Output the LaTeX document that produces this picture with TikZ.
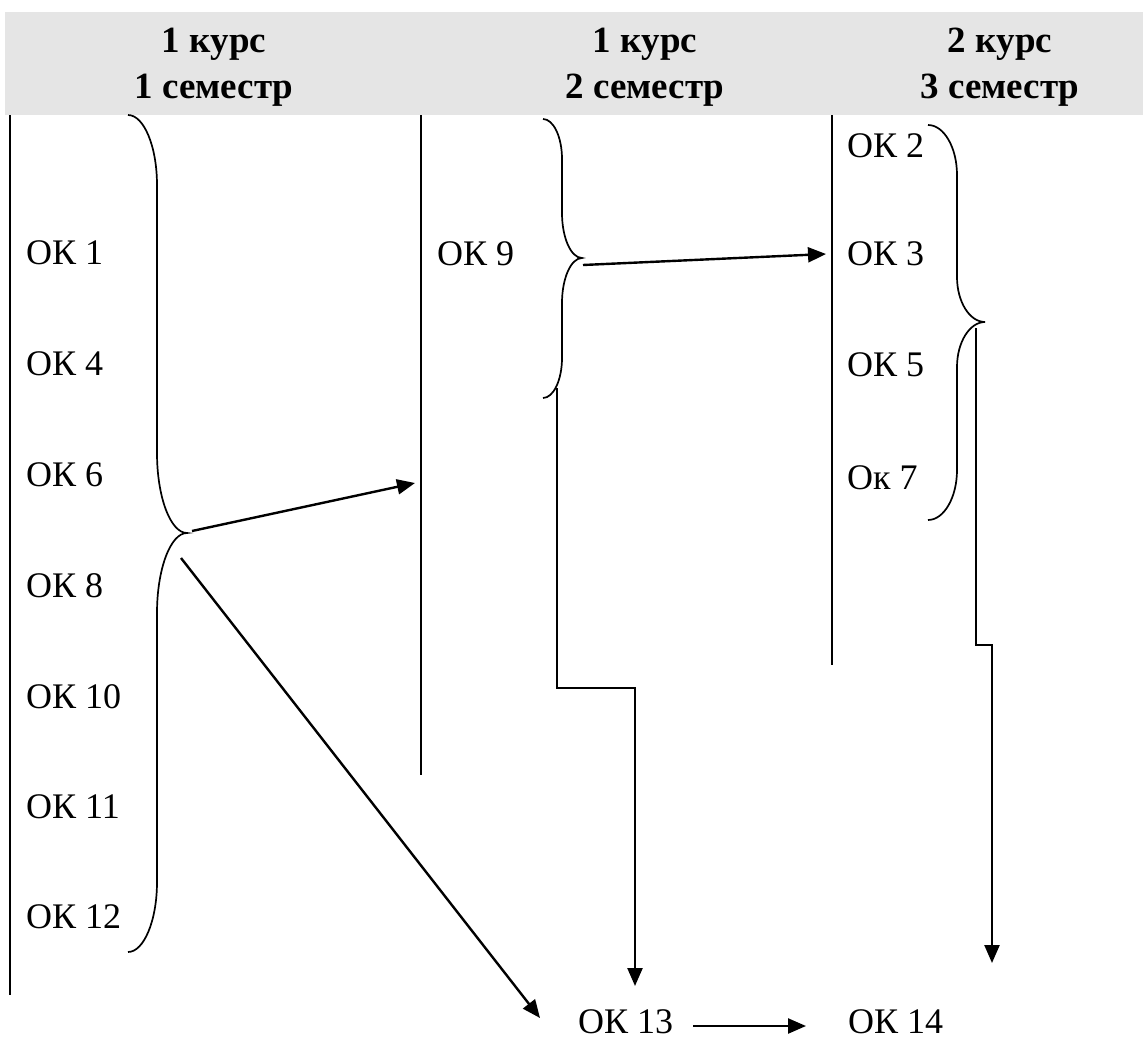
\documentclass[tikz,border=0pt]{standalone}
\usepackage{fontspec}
\setmainfont{Liberation Serif}
\usetikzlibrary{arrows.meta}
% #1 xt, #2 yt, #3 xs, #4 xp, #5 yp, #6 yb, #7 end-curve height, #8 tip-curve height
\newcommand{\drawbrace}[8]{%
  \draw[bracestyle] (#1,#2) .. controls ({#1+0.55*(#3-#1)},#2) and (#3,{#2+0.45*#7}) .. (#3,{#2+#7})
    -- (#3,{#5-#8}) .. controls (#3,{#5-0.45*#8}) and ({#4-0.55*(#4-#3)},#5) .. (#4,#5)
    .. controls ({#4-0.55*(#4-#3)},#5) and (#3,{#5+0.45*#8}) .. (#3,{#5+#8})
    -- (#3,{#6-#7}) .. controls (#3,{#6-0.45*#7}) and ({#1+0.55*(#3-#1)},#6) .. (#1,#6);}
\begin{document}
\begin{tikzpicture}[x=1pt,y=-1pt,
  lab/.style={anchor=west,inner sep=0pt,font=\fontsize{36}{42}\selectfont},
  hdr/.style={anchor=base,inner sep=0pt,font=\fontsize{37}{44}\selectfont\bfseries},
  colline/.style={line width=2.2pt},
  bracestyle/.style={line width=1.7pt},
  arr/.style={line width=2.4pt,-{Triangle[length=18pt,width=15pt]}}]
\useasboundingbox (0,0) rectangle (1146,1041);
\fill[black!10] (5,12) rectangle (1143,115);
% headers
\node[hdr] (h1a) at (214,53) {1 курс};
\node[hdr] (h1b) at (214,98) {1 семестр};
\node[hdr] (h2a) at (645,53) {1 курс};
\node[hdr] (h2b) at (645,98) {2 семестр};
\node[hdr] (h3a) at (1000,53) {2 курс};
\node[hdr] (h3b) at (1000,98) {3 семестр};
% column lines
\coordinate (c1t) at (10,115);  \coordinate (c1b) at (10,995);
\coordinate (c2t) at (421,115); \coordinate (c2b) at (421,775);
\coordinate (c3t) at (832,115); \coordinate (c3b) at (832,665);
\draw[colline] (c1t) -- (c1b);
\draw[colline] (c2t) -- (c2b);
\draw[colline] (c3t) -- (c3b);
% labels column 1
\node[lab] (ok1)  at (26,253) {ОК 1};
\node[lab] (ok4)  at (26,364) {ОК 4};
\node[lab] (ok6)  at (26,475) {ОК 6};
\node[lab] (ok8)  at (26,586) {ОК 8};
\node[lab] (ok10) at (26,697) {ОК 10};
\node[lab] (ok11) at (26,807) {ОК 11};
\node[lab] (ok12) at (26,917) {ОК 12};
% column 2
\node[lab] (ok9)  at (437,254) {ОК 9};
% column 3
\node[lab] (ok2)  at (847,146) {ОК 2};
\node[lab] (ok3)  at (847,254) {ОК 3};
\node[lab] (ok5)  at (847,365) {ОК 5};
\node[lab] (ok7)  at (847,478) {Ок 7};
% bottom
\node[lab] (ok13) at (578,1022) {ОК 13};
\node[lab] (ok14) at (848,1022) {ОК 14};
% braces
\drawbrace{128}{115}{157}{187}{533}{952}{70}{80}
\drawbrace{543}{119}{562}{582}{258}{398}{40}{45}
\drawbrace{928}{125}{957}{985}{322}{520}{50}{45}
% connector coordinates
\coordinate (b1s) at (192,531);
\coordinate (c2m) at (415,483);
\coordinate (d1s) at (181,558);
\coordinate (d1e) at (540,1018);
\coordinate (b2s) at (583,265);
\coordinate (b2bot) at (557,388);
\coordinate (b2j1) at (557,688);
\coordinate (b2j2) at (635,688);
\coordinate (b2e) at (635,986);
\coordinate (b3bot) at (976,328);
\coordinate (b3j1) at (976,645);
\coordinate (b3j2) at (992,645);
\coordinate (b3e) at (992,963);
% connectors
\draw[arr] (b1s) -- (c2m);
\draw[arr] (d1s) -- (d1e);
\draw[arr] (b2s) -- ([xshift=-21pt]ok3.west);
\draw[arr] (b2bot) -- (b2j1) -- (b2j2) -- (b2e);
\draw[arr] (b3bot) -- (b3j1) -- (b3j2) -- (b3e);
\draw[arr,shorten <=20pt,shorten >=42pt] ([yshift=-4pt]ok13.east) -- ([yshift=-4pt]ok14.west);
\end{tikzpicture}
\end{document}
